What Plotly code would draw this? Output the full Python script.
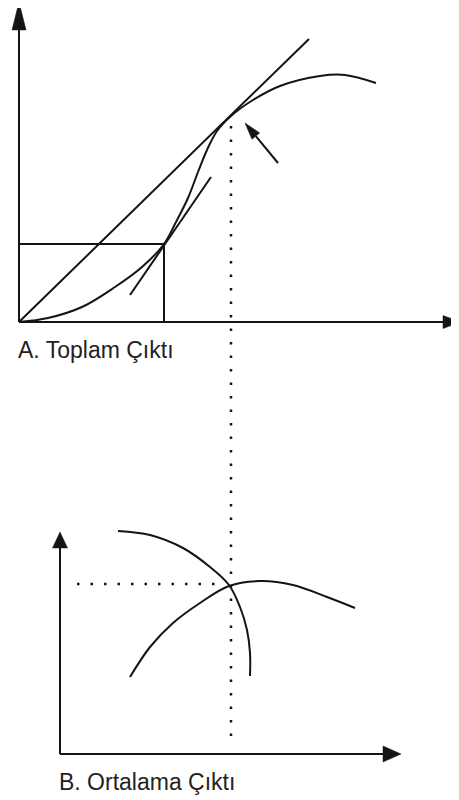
import plotly.graph_objects as go

# ---------------- data (diagram coordinates, x right, y down) ----------------
# Panel A: total product curve
TP_X = [19, 48, 82, 115, 142, 164, 176, 188, 198, 207, 217, 231, 253, 280, 320, 345, 376]
TP_Y = [322, 318, 307, 287, 267, 244, 222, 198, 172, 150, 131, 116, 100, 86, 76, 75, 83]
# ray from origin tangent to TP
RAY_X = [19, 309]
RAY_Y = [322, 39]
# tangent at the inflection-side point
TAN_X = [130, 211]
TAN_Y = [295, 177]
# rectangle under the point on TP
RECT_X = [19, 164, 164]
RECT_Y = [244, 244, 322]
# vertical dotted guide through both panels
VGUIDE_X = [231, 231]
VGUIDE_Y = [126, 738]
# small pointing arrow (tail -> tip)
PTR_X = [278, 245]
PTR_Y = [163, 123]

# Panel B: average curves
AP1_X = [118, 150, 183, 210, 229, 240, 247, 250, 250]
AP1_Y = [531, 535, 548, 567, 585, 607, 630, 653, 676]
AP2_X = [130, 150, 173, 200, 229, 260, 293, 327, 355]
AP2_Y = [677, 647, 623, 603, 586, 581, 585, 597, 608]
HGUIDE_X = [77, 225]
HGUIDE_Y = [584, 584]

# axes (origin -> tip)
AXES = {
    "A_y": ([19, 19], [322, 2], 28, 14),
    "A_x": ([19, 461], [322, 322], 18, 13),
    "B_y": ([60, 60], [754, 532], 16, 15),
    "B_x": ([60, 401], [754, 754], 18, 16),
}
LABELS = ["A. Toplam Çıktı", "B. Ortalama Çıktı"]
LABEL_X = [16, 57]
LABEL_Y = [350, 782]

INK = "#141414"
PAGE_W, PAGE_H = 459, 800
BODY_MARGIN = 8  # default browser body margin around the plot div

fig = go.Figure()


def add_line(xs, ys, width=2, dash=None, shape="linear"):
    fig.add_trace(go.Scatter(
        x=xs, y=ys, mode="lines",
        line=dict(color=INK, width=width, dash=dash, shape=shape, smoothing=1.0),
        hoverinfo="skip", showlegend=False))


def add_head(xs, ys, length, width):
    tx, ty = xs[-1], ys[-1]
    sx, sy = xs[0], ys[0]
    dx, dy = tx - sx, ty - sy
    n = (dx * dx + dy * dy) ** 0.5
    ux, uy = dx / n, dy / n
    px, py = -uy, ux
    bx, by = tx - ux * length, ty - uy * length
    hx = [tx, bx + px * width / 2, bx - px * width / 2, tx]
    hy = [ty, by + py * width / 2, by - py * width / 2, ty]
    fig.add_trace(go.Scatter(
        x=hx, y=hy, mode="lines", fill="toself", fillcolor=INK,
        line=dict(color=INK, width=0.5), hoverinfo="skip", showlegend=False))
    return bx, by


# axes
for name, (xs, ys, hl, hw) in AXES.items():
    bx, by = add_head(xs, ys, hl, hw)
    add_line([xs[0], bx], [ys[0], by], width=2)

# panel A
add_line(RECT_X, RECT_Y, width=2)
add_line(RAY_X, RAY_Y, width=2)
add_line(TAN_X, TAN_Y, width=2)
add_line(TP_X, TP_Y, width=2, shape="spline")
add_line(VGUIDE_X, VGUIDE_Y, width=2.5, dash="2.5px,11px")
bx, by = add_head(PTR_X, PTR_Y, 17, 10)
add_line([PTR_X[0], bx], [PTR_Y[0], by], width=2)

# panel B
add_line(HGUIDE_X, HGUIDE_Y, width=2.5, dash="2.5px,11px")
add_line(AP1_X, AP1_Y, width=2, shape="spline")
add_line(AP2_X, AP2_Y, width=2, shape="spline")

for txt, lx, ly in zip(LABELS, LABEL_X, LABEL_Y):
    fig.add_annotation(
        x=lx, y=ly, xref="x", yref="y", text=txt, showarrow=False,
        xanchor="left", yanchor="middle",
        font=dict(family="Liberation Sans, Arial, sans-serif", size=23, color="#222"))

fig.update_layout(
    width=PAGE_W - BODY_MARGIN, height=PAGE_H - BODY_MARGIN,
    margin=dict(l=0, r=0, t=0, b=0),
    paper_bgcolor="white", plot_bgcolor="white",
    showlegend=False,
    xaxis=dict(range=[BODY_MARGIN, PAGE_W], visible=False, fixedrange=True),
    yaxis=dict(range=[PAGE_H, BODY_MARGIN], visible=False, fixedrange=True),
)

fig.write_html("out.html", config={"displayModeBar": False})
